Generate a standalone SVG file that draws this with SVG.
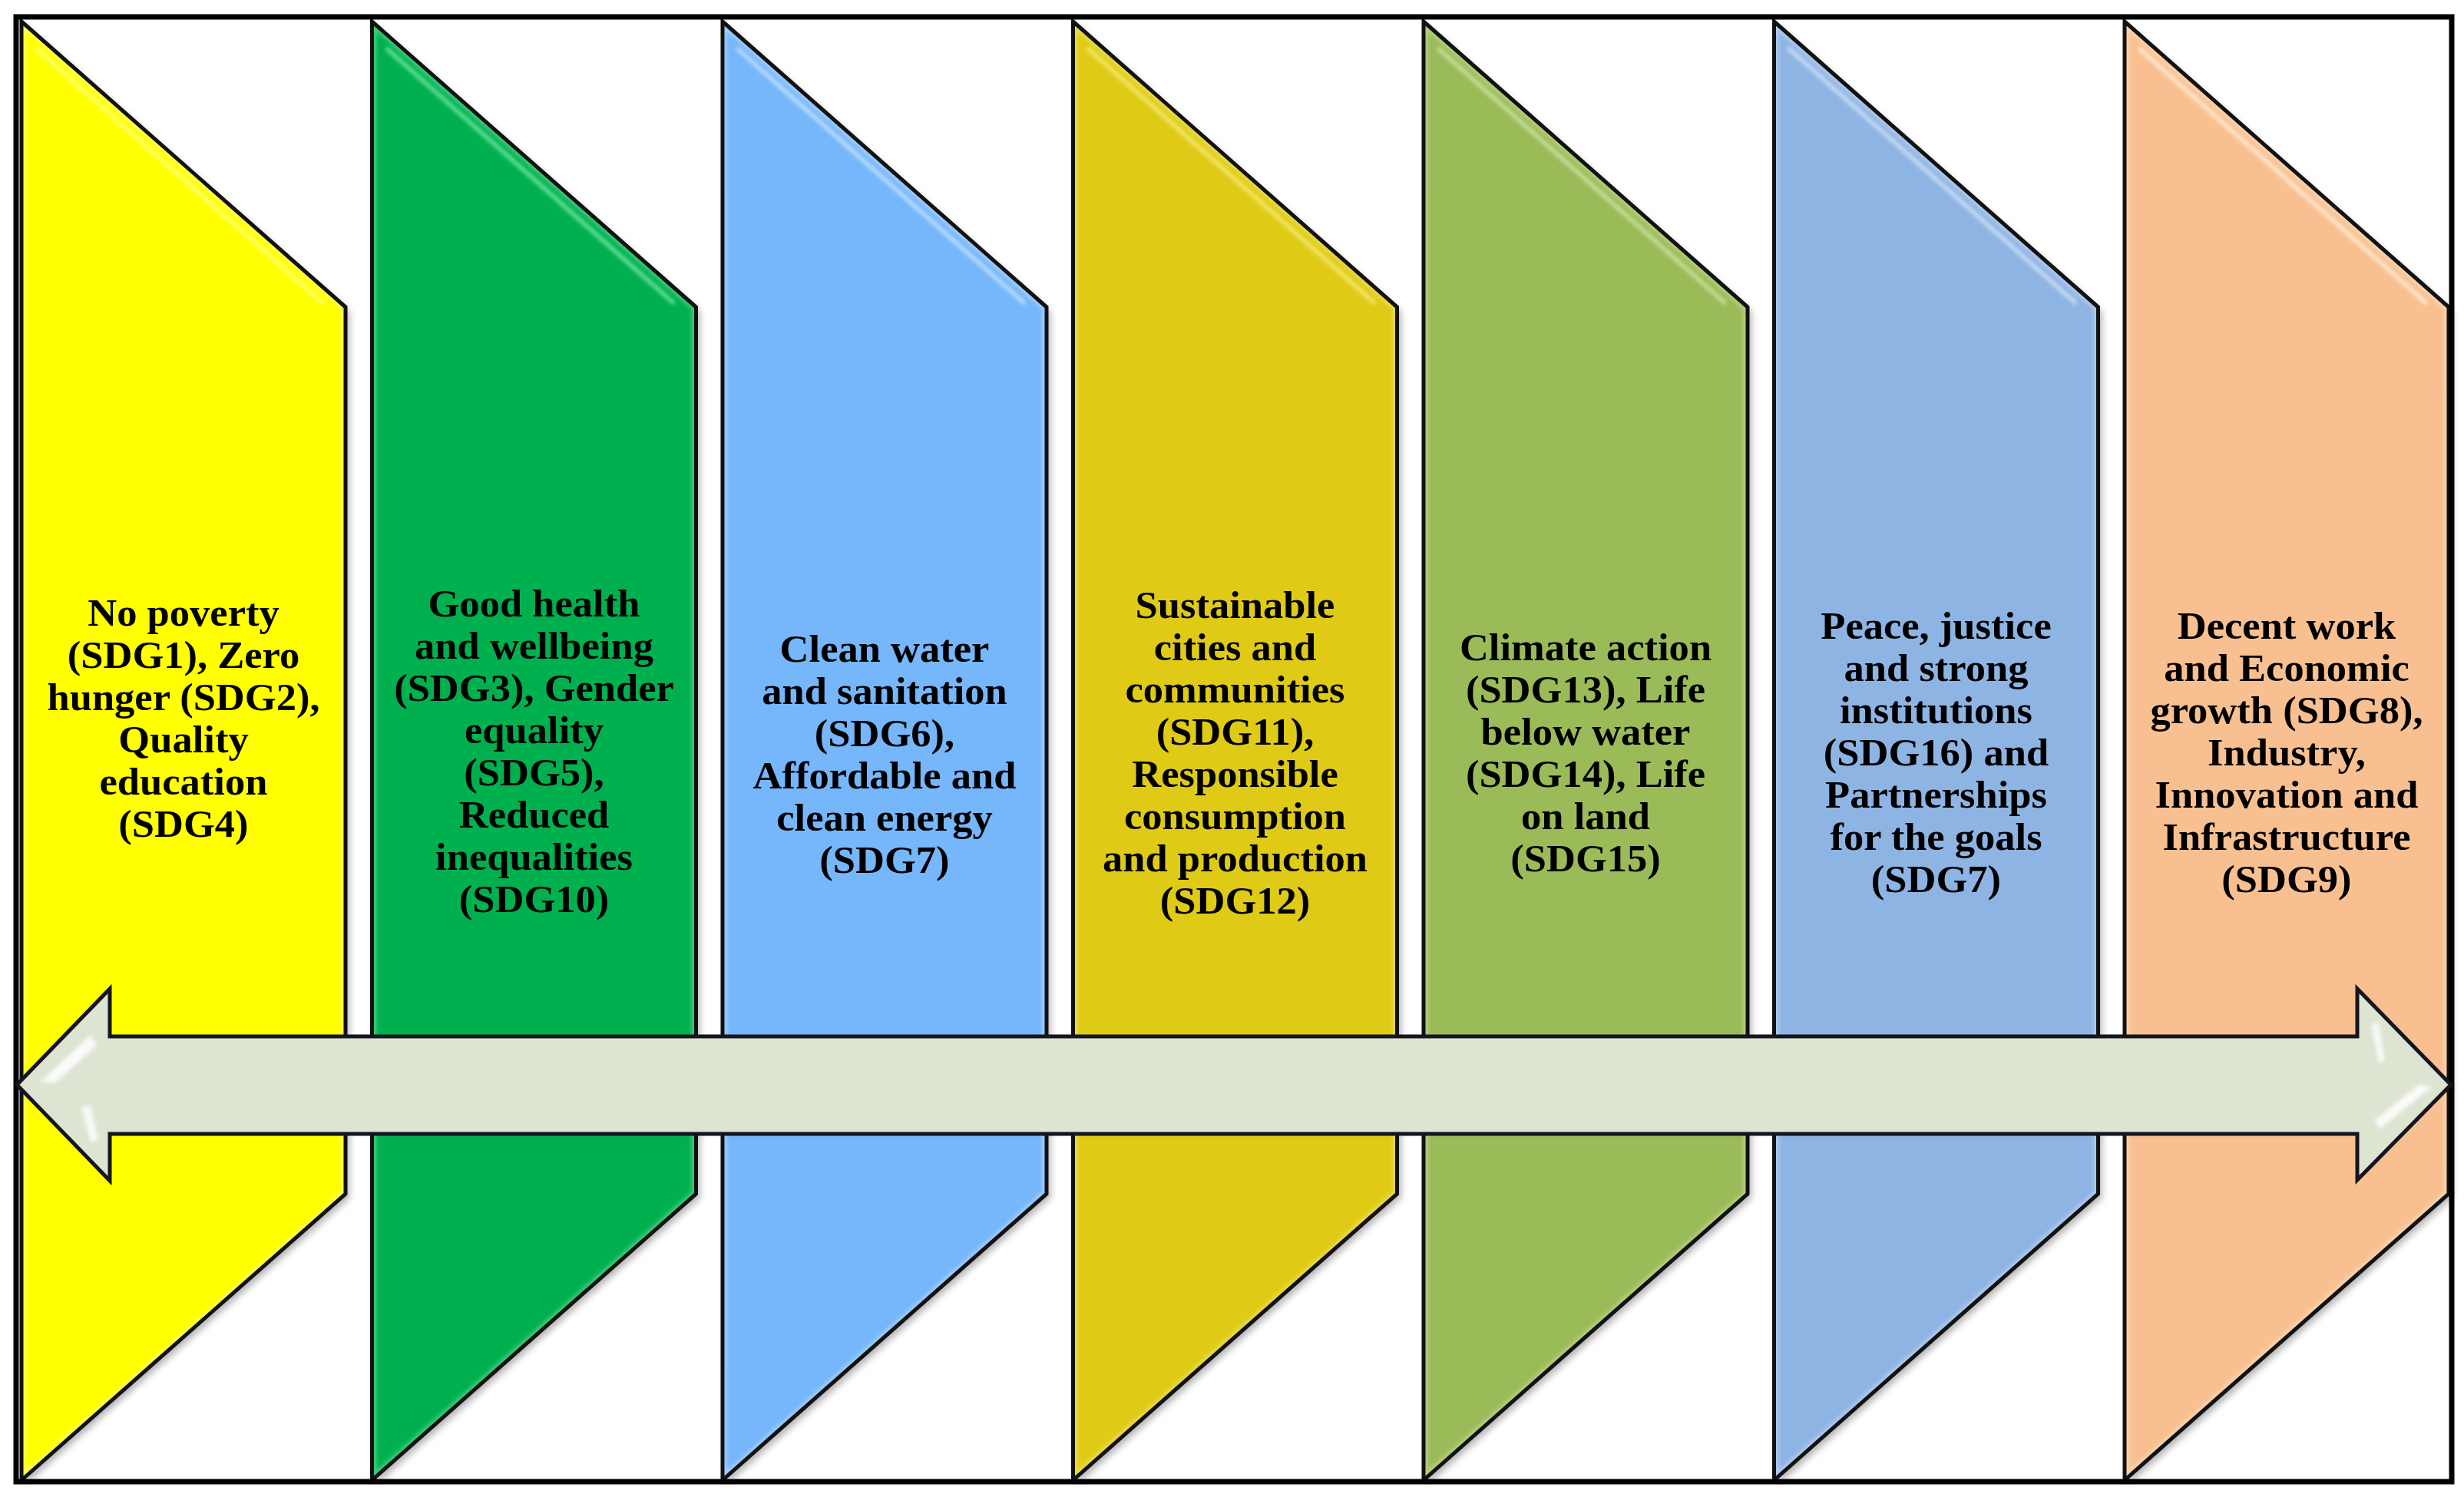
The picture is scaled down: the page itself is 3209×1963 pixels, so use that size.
<svg xmlns="http://www.w3.org/2000/svg" xmlns:xlink="http://www.w3.org/1999/xlink" width="3209" height="1963" viewBox="0 0 3209 1963">
  <style>
    .outline { fill: none; stroke: #111111; stroke-width: 5; stroke-linejoin: miter; }
    .label { font-family: "Liberation Serif", "Times New Roman", serif; font-weight: bold; font-size: 51px; fill: #000; text-anchor: middle; }
    .gloss { stroke-width: 5; stroke-linecap: round; fill: none; opacity: 0.8; }
    .bevel { fill: none; stroke-width: 12; opacity: 0.5; }
  </style>
  <defs>
    <polygon id="shape" points="0,28 422,400 422,1555 0,1928"/>
    <clipPath id="clip" clipPathUnits="userSpaceOnUse">
      <polygon points="0,28 422,400 422,1555 0,1928"/>
    </clipPath>
    <filter id="shadow" x="-10%" y="-5%" width="130%" height="115%">
      <feGaussianBlur in="SourceAlpha" stdDeviation="5"/>
      <feOffset dx="5" dy="6" result="b"/>
      <feComponentTransfer><feFuncA type="linear" slope="0.3"/></feComponentTransfer>
      <feMerge><feMergeNode/><feMergeNode in="SourceGraphic"/></feMerge>
    </filter>
    <filter id="soft" x="-10%" y="-10%" width="120%" height="120%">
      <feGaussianBlur stdDeviation="2.5"/>
    </filter>
  </defs>

  <rect x="0" y="0" width="3209" height="1963" fill="#ffffff"/>

  <g id="panel-1" transform="translate(28,0)">
    <use xlink:href="#shape" fill="#FFFF00" filter="url(#shadow)"/>
    <g clip-path="url(#clip)"><use xlink:href="#shape" class="bevel" stroke="#FFFFA0" filter="url(#soft)"/></g>
    <line class="gloss" x1="20" y1="64" x2="392" y2="394" stroke="#FFFF9A" filter="url(#soft)"/>
    <use xlink:href="#shape" class="outline"/>
    <g transform="translate(211,0) scale(1.03,1)">
      <text class="label" x="0" y="815">No poverty</text>
      <text class="label" x="0" y="870">(SDG1), Zero</text>
      <text class="label" x="0" y="925">hunger (SDG2),</text>
      <text class="label" x="0" y="980">Quality</text>
      <text class="label" x="0" y="1035">education</text>
      <text class="label" x="0" y="1090">(SDG4)</text>
    </g>
  </g>

  <g id="panel-2" transform="translate(484.5,0)">
    <use xlink:href="#shape" fill="#00B050" filter="url(#shadow)"/>
    <g clip-path="url(#clip)"><use xlink:href="#shape" class="bevel" stroke="#7CE6A8" filter="url(#soft)"/></g>
    <line class="gloss" x1="20" y1="64" x2="392" y2="394" stroke="#8BF0B8" filter="url(#soft)"/>
    <use xlink:href="#shape" class="outline"/>
    <g transform="translate(211,0) scale(1.03,1)">
      <text class="label" x="0" y="803">Good health</text>
      <text class="label" x="0" y="858">and wellbeing</text>
      <text class="label" x="0" y="913">(SDG3), Gender</text>
      <text class="label" x="0" y="968">equality</text>
      <text class="label" x="0" y="1023">(SDG5),</text>
      <text class="label" x="0" y="1078">Reduced</text>
      <text class="label" x="0" y="1133">inequalities</text>
      <text class="label" x="0" y="1188">(SDG10)</text>
    </g>
  </g>

  <g id="panel-3" transform="translate(941,0)">
    <use xlink:href="#shape" fill="#76B6FA" filter="url(#shadow)"/>
    <g clip-path="url(#clip)"><use xlink:href="#shape" class="bevel" stroke="#C8E4FF" filter="url(#soft)"/></g>
    <line class="gloss" x1="20" y1="64" x2="392" y2="394" stroke="#D2EAFF" filter="url(#soft)"/>
    <use xlink:href="#shape" class="outline"/>
    <g transform="translate(211,0) scale(1.03,1)">
      <text class="label" x="0" y="862">Clean water</text>
      <text class="label" x="0" y="917">and sanitation</text>
      <text class="label" x="0" y="972">(SDG6),</text>
      <text class="label" x="0" y="1027">Affordable and</text>
      <text class="label" x="0" y="1082">clean energy</text>
      <text class="label" x="0" y="1137">(SDG7)</text>
    </g>
  </g>

  <g id="panel-4" transform="translate(1397.5,0)">
    <use xlink:href="#shape" fill="#DFCB16" filter="url(#shadow)"/>
    <g clip-path="url(#clip)"><use xlink:href="#shape" class="bevel" stroke="#F6EA7C" filter="url(#soft)"/></g>
    <line class="gloss" x1="20" y1="64" x2="392" y2="394" stroke="#FAF08A" filter="url(#soft)"/>
    <use xlink:href="#shape" class="outline"/>
    <g transform="translate(211,0) scale(1.03,1)">
      <text class="label" x="0" y="805">Sustainable</text>
      <text class="label" x="0" y="860">cities and</text>
      <text class="label" x="0" y="915">communities</text>
      <text class="label" x="0" y="970">(SDG11),</text>
      <text class="label" x="0" y="1025">Responsible</text>
      <text class="label" x="0" y="1080">consumption</text>
      <text class="label" x="0" y="1135">and production</text>
      <text class="label" x="0" y="1190">(SDG12)</text>
    </g>
  </g>

  <g id="panel-5" transform="translate(1854,0)">
    <use xlink:href="#shape" fill="#9BBB59" filter="url(#shadow)"/>
    <g clip-path="url(#clip)"><use xlink:href="#shape" class="bevel" stroke="#CFE2A6" filter="url(#soft)"/></g>
    <line class="gloss" x1="20" y1="64" x2="392" y2="394" stroke="#D8EAB2" filter="url(#soft)"/>
    <use xlink:href="#shape" class="outline"/>
    <g transform="translate(211,0) scale(1.03,1)">
      <text class="label" x="0" y="860">Climate action</text>
      <text class="label" x="0" y="915">(SDG13), Life</text>
      <text class="label" x="0" y="970">below water</text>
      <text class="label" x="0" y="1025">(SDG14), Life</text>
      <text class="label" x="0" y="1080">on land</text>
      <text class="label" x="0" y="1135">(SDG15)</text>
    </g>
  </g>

  <g id="panel-6" transform="translate(2310.5,0)">
    <use xlink:href="#shape" fill="#8EB4E3" filter="url(#shadow)"/>
    <g clip-path="url(#clip)"><use xlink:href="#shape" class="bevel" stroke="#D0E2F7" filter="url(#soft)"/></g>
    <line class="gloss" x1="20" y1="64" x2="392" y2="394" stroke="#DCEAFA" filter="url(#soft)"/>
    <use xlink:href="#shape" class="outline"/>
    <g transform="translate(211,0) scale(1.03,1)">
      <text class="label" x="0" y="832">Peace, justice</text>
      <text class="label" x="0" y="887">and strong</text>
      <text class="label" x="0" y="942">institutions</text>
      <text class="label" x="0" y="997">(SDG16) and</text>
      <text class="label" x="0" y="1052">Partnerships</text>
      <text class="label" x="0" y="1107">for the goals</text>
      <text class="label" x="0" y="1162">(SDG7)</text>
    </g>
  </g>

  <g id="panel-7" transform="translate(2767,0)">
    <use xlink:href="#shape" fill="#F8C090" filter="url(#shadow)"/>
    <g clip-path="url(#clip)"><use xlink:href="#shape" class="bevel" stroke="#FFE6CC" filter="url(#soft)"/></g>
    <line class="gloss" x1="20" y1="64" x2="392" y2="394" stroke="#FFF6E6" filter="url(#soft)"/>
    <use xlink:href="#shape" class="outline"/>
    <g transform="translate(211,0) scale(1.03,1)">
      <text class="label" x="0" y="832">Decent work</text>
      <text class="label" x="0" y="887">and Economic</text>
      <text class="label" x="0" y="942">growth (SDG8),</text>
      <text class="label" x="0" y="997">Industry,</text>
      <text class="label" x="0" y="1052">Innovation and</text>
      <text class="label" x="0" y="1107">Infrastructure</text>
      <text class="label" x="0" y="1162">(SDG9)</text>
    </g>
  </g>

  <g id="frame">
    <rect x="21" y="22" width="3172" height="1908" fill="none" stroke="#000" stroke-width="7"/>
  </g>

  <g id="connectors">
    <polygon points="22,1413 143,1288 143,1350 3070,1350 3070,1288 3192,1413 3070,1537 3070,1477 143,1477 143,1538" fill="#DDE4D1"/>
    <line x1="146" y1="1356" x2="3067" y2="1356" stroke="#F4F8EE" stroke-width="4" filter="url(#soft)"/>
    <line x1="146" y1="1471" x2="3067" y2="1471" stroke="#F4F8EE" stroke-width="4" filter="url(#soft)"/>
    <polygon points="52,1410 118,1348 126,1362 72,1410" fill="#FFFFFF" opacity="0.85" filter="url(#soft)"/>
    <polygon points="106,1442 118,1440 128,1485 118,1488" fill="#FFFFFF" opacity="0.8" filter="url(#soft)"/>
    <polygon points="3088,1335 3098,1332 3106,1382 3098,1385" fill="#FFFFFF" opacity="0.8" filter="url(#soft)"/>
    <polygon points="3092,1460 3150,1413 3168,1415 3100,1470" fill="#FFFFFF" opacity="0.85" filter="url(#soft)"/>
    <polygon points="22,1413 143,1288 143,1350 3070,1350 3070,1288 3192,1413 3070,1537 3070,1477 143,1477 143,1538" fill="none" stroke="#15151f" stroke-width="5" stroke-linejoin="miter"/>
  </g>
</svg>
